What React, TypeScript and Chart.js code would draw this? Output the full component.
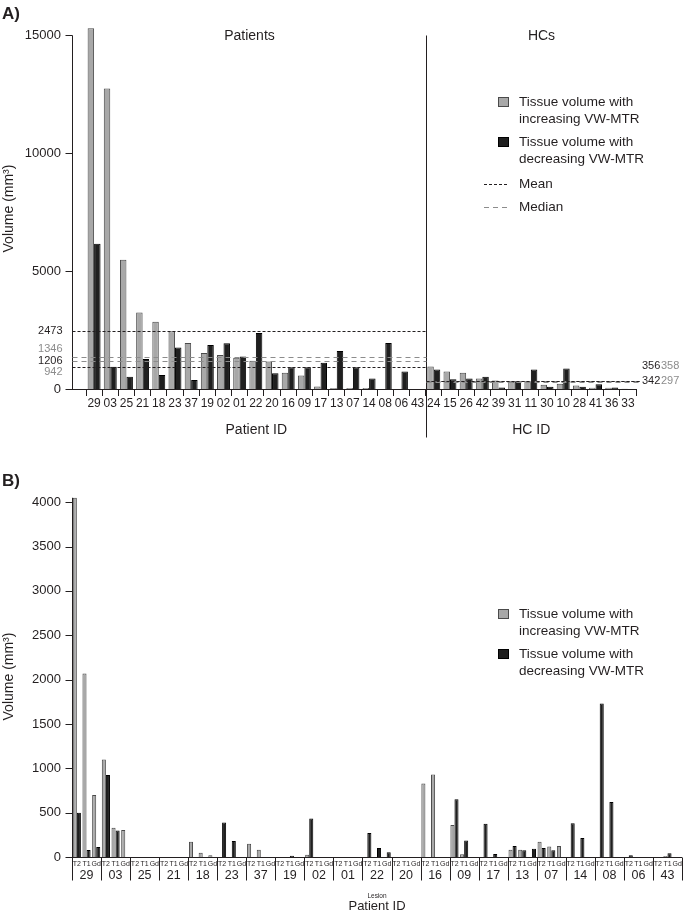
import React, { useEffect, useRef } from 'react';
import { Chart, registerables } from 'chart.js';

Chart.register(...registerables);

const FONT = '"Liberation Sans", Arial, Helvetica, sans-serif';
const TEXT = '#231f20';
const STAT_GRAY = '#8c8c8c';
const GRAY_FILL = '#a8a8a8';
const GRAY_EDGE = '#4a4a4a';
const BLACK_FILL = '#1f1f1f';
const BLACK_EDGE = '#000000';

// ---------- Panel A data ----------
const patientIds = ['29', '03', '25', '21', '18', '23', '37', '19', '02', '01', '22', '20', '16', '09', '17', '13', '07', '14', '08', '06', '43'];
const hcIds = ['24', '15', '26', '42', '39', '31', '11', '30', '10', '28', '41', '36', '33'];
const patientIncreasing = [15290, 12740, 5480, 3240, 2845, 2450, 1953, 1529, 1444, 1324, 1196, 1168, 686, 573, 106, 40, 40, 40, 0, 0, 0];
const patientDecreasing = [6157, 947, 522, 1274, 594, 1754, 382, 1868, 1940, 1380, 2371, 672, 927, 927, 1111, 1607, 927, 446, 1946, 743, 0];
const hcIncreasing = [955, 743, 687, 446, 361, 306, 331, 178, 220, 150, 50, 50, 10];
const hcDecreasing = [828, 416, 446, 517, 64, 330, 828, 93, 870, 93, 204, 64, 0];
const yTicksA = [0, 5000, 10000, 15000];
const yMaxA = 15300;

const patientStatValues = [2473, 1346, 1206, 942];
const patientStatStyles = ['dotted', 'dashed', 'dashed', 'dotted'];
const patientStatLabelColors = [TEXT, STAT_GRAY, TEXT, STAT_GRAY];
const hcStatValues = [356, 358, 342, 297];
const hcStatStyles = ['dotted', 'dashed', 'dotted', 'dashed'];
const hcStatLabelColors = [TEXT, STAT_GRAY, TEXT, STAT_GRAY];

// ---------- Panel B data ----------
const lesionTypes = ['T2', 'T1', 'Gd'];
const increasingT2 = [4050, 1100, 0, 0, 172, 0, 150, 0, 26, 0, 0, 0, 830, 360, 0, 83, 173, 0, 0, 0, 0];
const increasingT1 = [2070, 330, 0, 0, 47, 0, 83, 0, 0, 0, 0, 0, 930, 30, 0, 83, 117, 0, 0, 0, 10];
const increasingGd = [700, 305, 0, 0, 20, 0, 0, 0, 0, 0, 0, 0, 0, 0, 0, 0, 124, 0, 0, 0, 0];
const decreasingT2 = [500, 925, 0, 0, 0, 390, 0, 0, 435, 0, 271, 0, 0, 650, 375, 124, 102, 380, 1730, 19, 0];
const decreasingT1 = [78, 300, 0, 0, 0, 180, 0, 15, 0, 0, 102, 0, 0, 185, 35, 75, 75, 215, 620, 0, 41];
const decreasingGd = [113, 0, 0, 0, 0, 0, 0, 0, 0, 0, 53, 0, 0, 0, 0, 94, 0, 0, 0, 0, 0];
const yTicksB = [0, 500, 1000, 1500, 2000, 2500, 3000, 3500, 4000];
const yMaxB = 4070;

const legendIncreasing = ['Tissue volume with', 'increasing VW-MTR'];
const legendDecreasing = ['Tissue volume with', 'decreasing VW-MTR'];

const AXIS_GAP_A = 14;
const TICK_LEN = 7;

function font(size: number, weight = 'normal') {
  return `${weight} ${size}px ${FONT}`;
}

function hline(ctx: CanvasRenderingContext2D, x1: number, x2: number, y: number) {
  ctx.beginPath();
  ctx.moveTo(x1, y);
  ctx.lineTo(x2, y);
  ctx.stroke();
}
function vline(ctx: CanvasRenderingContext2D, x: number, y1: number, y2: number) {
  ctx.beginPath();
  ctx.moveTo(x, y1);
  ctx.lineTo(x, y2);
  ctx.stroke();
}
function setStyle(ctx: CanvasRenderingContext2D, style: string) {
  if (style === 'dotted') {
    ctx.setLineDash([3, 2]);
    ctx.strokeStyle = TEXT;
  } else {
    ctx.setLineDash([5, 4]);
    ctx.strokeStyle = STAT_GRAY;
  }
}

function drawLegend(ctx: CanvasRenderingContext2D, x0: number, y0: number, withStats: boolean) {
  ctx.save();
  ctx.lineWidth = 1;
  ctx.font = font(13.5);
  ctx.fillStyle = TEXT;
  ctx.textBaseline = 'middle';
  ctx.textAlign = 'left';
  const tx = x0 + 21;
  const items = [
    { lines: legendIncreasing, fill: GRAY_FILL, edge: GRAY_EDGE },
    { lines: legendDecreasing, fill: BLACK_FILL, edge: BLACK_EDGE },
  ];
  items.forEach((it, i) => {
    const yy = y0 + i * 40;
    ctx.fillStyle = it.fill;
    ctx.fillRect(x0, yy - 5, 11, 10);
    ctx.strokeStyle = it.edge;
    ctx.strokeRect(x0 + 0.5, yy - 4.5, 10, 9);
    ctx.fillStyle = TEXT;
    it.lines.forEach((l, j) => ctx.fillText(l, tx, yy + j * 17));
  });
  if (withStats) {
    const ym = y0 + 82;
    setStyle(ctx, 'dotted');
    hline(ctx, x0 - 14, x0 + 11, ym + 0.5);
    setStyle(ctx, 'dashed');
    hline(ctx, x0 - 14, x0 + 11, ym + 23.5);
    ctx.setLineDash([]);
    ctx.fillStyle = TEXT;
    ctx.fillText('Mean', tx, ym);
    ctx.fillText('Median', tx, ym + 23);
  }
  ctx.restore();
}

const panelAPlugin = {
  id: 'panelAExtras',
  afterDraw(chart: any) {
    const { ctx, chartArea: a } = chart;
    const x = chart.scales.x;
    const y = chart.scales.y;
    const axisX = Math.round(a.left - AXIS_GAP_A) + 0.5;
    const base = Math.round(y.getPixelForValue(0)) + 0.5;
    const top = Math.round(y.getPixelForValue(yTicksA[yTicksA.length - 1])) + 0.5;
    const catW = (a.right - a.left) / x.ticks.length;
    const sepX = Math.round(x.getPixelForValue(patientIds.length - 1) + catW / 2) + 0.5;
    ctx.save();
    ctx.strokeStyle = TEXT;
    ctx.lineWidth = 1;
    vline(ctx, axisX, top, base);
    y.ticks.forEach((t: any) => {
      const py = Math.round(y.getPixelForValue(t.value)) + 0.5;
      hline(ctx, axisX - TICK_LEN, axisX, py);
    });
    hline(ctx, axisX - 0.5, a.right, base);
    vline(ctx, sepX, top, base + 48);

    patientStatValues.forEach((v, i) => {
      setStyle(ctx, patientStatStyles[i]);
      hline(ctx, axisX, sepX, Math.round(y.getPixelForValue(v)) + 0.5);
    });
    hcStatValues.forEach((v, i) => {
      setStyle(ctx, hcStatStyles[i]);
      hline(ctx, sepX, a.right + 4, Math.round(y.getPixelForValue(v)) + 0.5);
    });
    ctx.setLineDash([]);

    ctx.font = font(11);
    ctx.textBaseline = 'middle';
    ctx.textAlign = 'right';
    const pOffsets = [0, -8, 0, 5];
    patientStatValues.forEach((v, i) => {
      ctx.fillStyle = patientStatLabelColors[i];
      ctx.fillText(String(v), axisX - 10, y.getPixelForValue(v) + pOffsets[i]);
    });
    ctx.textAlign = 'left';
    const hx = a.right + 6;
    const row1 = y.getPixelForValue(hcStatValues[0]) - 15;
    const row2 = y.getPixelForValue(hcStatValues[2]);
    ctx.fillStyle = hcStatLabelColors[0];
    ctx.fillText(String(hcStatValues[0]), hx, row1);
    ctx.fillStyle = hcStatLabelColors[1];
    ctx.fillText(String(hcStatValues[1]), hx + 19, row1);
    ctx.fillStyle = hcStatLabelColors[2];
    ctx.fillText(String(hcStatValues[2]), hx, row2);
    ctx.fillStyle = hcStatLabelColors[3];
    ctx.fillText(String(hcStatValues[3]), hx + 19, row2);

    ctx.fillStyle = TEXT;
    ctx.textAlign = 'center';
    ctx.font = font(14);
    ctx.fillText('Patients', (axisX + sepX) / 2, top + 1);
    ctx.fillText('HCs', sepX + 115, top + 1);
    ctx.fillText('Patient ID', (a.left + sepX) / 2, base + 41);
    ctx.fillText('HC ID', (sepX + a.right) / 2, base + 41);

    ctx.textAlign = 'left';
    ctx.font = font(17, 'bold');
    ctx.fillText('A)', 2, 14);
    ctx.restore();

    drawLegend(ctx, 498, 102, true);
  },
};

const panelBPlugin = {
  id: 'panelBExtras',
  afterDraw(chart: any) {
    const { ctx, chartArea: a } = chart;
    const x = chart.scales.x;
    const y = chart.scales.y;
    const axisX = Math.round(a.left) + 0.5;
    const base = Math.round(y.getPixelForValue(0)) + 0.5;
    const top = y.getPixelForValue(yMaxB - 20);
    const catW = (a.right - a.left) / x.ticks.length;
    ctx.save();
    ctx.strokeStyle = TEXT;
    ctx.lineWidth = 1;
    vline(ctx, axisX, top, base);
    y.ticks.forEach((t: any) => {
      const py = Math.round(y.getPixelForValue(t.value)) + 0.5;
      hline(ctx, axisX - TICK_LEN, axisX, py);
    });
    hline(ctx, axisX - 0.5, a.right, base);
    for (let k = 0; k <= patientIds.length; k++) {
      const gx = Math.round(x.getPixelForValue(k * lesionTypes.length) - catW / 2) + 0.5;
      vline(ctx, gx, base, base + 23);
    }
    ctx.fillStyle = TEXT;
    ctx.textAlign = 'center';
    ctx.textBaseline = 'middle';
    ctx.font = font(12.5);
    patientIds.forEach((p, k) => {
      ctx.fillText(p, x.getPixelForValue(k * lesionTypes.length + 1), base + 18);
    });
    const cx = (a.left + a.right) / 2;
    ctx.font = font(6.5);
    ctx.fillText('Lesion', cx, base + 39);
    ctx.font = font(13);
    ctx.fillText('Patient ID', cx, base + 49);

    ctx.textAlign = 'left';
    ctx.font = font(17, 'bold');
    ctx.fillText('B)', 2, 31);
    ctx.restore();

    drawLegend(ctx, 498, 164, false);
  },
};

function interleave(a: number[], b: number[], c: number[]) {
  const out: number[] = [];
  for (let i = 0; i < a.length; i++) out.push(a[i], b[i], c[i]);
  return out;
}

function yAxis(max: number, tickValues: number[], width: number, padding: number) {
  return {
    type: 'linear',
    min: 0,
    max,
    grid: { display: false, drawTicks: false },
    border: { display: false },
    afterBuildTicks: (s: any) => {
      s.ticks = tickValues.map((v) => ({ value: v }));
    },
    ticks: {
      padding,
      color: TEXT,
      font: { family: FONT, size: 13 },
      callback: (v: any) => String(v),
    },
    title: {
      display: true,
      text: 'Volume (mm³)',
      color: TEXT,
      font: { family: FONT, size: 14 },
      padding: { top: 1, bottom: 0 },
    },
    afterFit: (s: any) => {
      s.width = width;
      s.paddingTop = 0;
      s.paddingBottom = 0;
    },
  };
}

function makeConfigA(): any {
  return {
    type: 'bar',
    data: {
      labels: [...patientIds, ...hcIds],
      datasets: [
        {
          label: legendIncreasing.join(' '),
          data: [...patientIncreasing, ...hcIncreasing],
          backgroundColor: GRAY_FILL,
          borderColor: GRAY_EDGE,
          borderWidth: 1,
          categoryPercentage: 0.8,
          barPercentage: 1,
        },
        {
          label: legendDecreasing.join(' '),
          data: [...patientDecreasing, ...hcDecreasing],
          backgroundColor: BLACK_FILL,
          borderColor: BLACK_EDGE,
          borderWidth: 1,
          categoryPercentage: 0.8,
          barPercentage: 1,
        },
      ],
    },
    options: {
      responsive: false,
      animation: false,
      layout: { padding: { left: 0, right: 50, top: 28, bottom: 0 } },
      plugins: { legend: { display: false }, tooltip: { enabled: false } },
      scales: {
        x: {
          type: 'category',
          offset: true,
          grid: { display: true, drawOnChartArea: false, drawTicks: true, tickLength: TICK_LEN, color: TEXT, lineWidth: 1, offset: true },
          border: { display: false },
          ticks: { autoSkip: false, maxRotation: 0, minRotation: 0, padding: 0, color: TEXT, font: { family: FONT, size: 12 } },
          afterFit: (s: any) => {
            s.height = 61;
          },
        },
        y: yAxis(yMaxA, yTicksA, 86, AXIS_GAP_A + TICK_LEN + 4),
      },
    },
    plugins: [panelAPlugin],
  };
}

function makeConfigB(): any {
  const labels = patientIds.flatMap(() => lesionTypes);
  return {
    type: 'bar',
    data: {
      labels,
      datasets: [
        {
          label: legendIncreasing.join(' '),
          data: interleave(increasingT2, increasingT1, increasingGd),
          backgroundColor: GRAY_FILL,
          borderColor: GRAY_EDGE,
          borderWidth: 1,
          categoryPercentage: 0.84,
          barPercentage: 1,
        },
        {
          label: legendDecreasing.join(' '),
          data: interleave(decreasingT2, decreasingT1, decreasingGd),
          backgroundColor: BLACK_FILL,
          borderColor: BLACK_EDGE,
          borderWidth: 1,
          categoryPercentage: 0.84,
          barPercentage: 1,
        },
      ],
    },
    options: {
      responsive: false,
      animation: false,
      layout: { padding: { left: 0, right: 4, top: 46, bottom: 0 } },
      plugins: { legend: { display: false }, tooltip: { enabled: false } },
      scales: {
        x: {
          type: 'category',
          offset: true,
          grid: { display: false, drawTicks: false },
          border: { display: false },
          ticks: { autoSkip: false, maxRotation: 0, minRotation: 0, padding: 3, color: TEXT, font: { family: FONT, size: 7 } },
          afterFit: (s: any) => {
            s.height = 58;
          },
        },
        y: yAxis(yMaxB, yTicksB, 72, TICK_LEN + 4),
      },
    },
    plugins: [panelBPlugin],
  };
}

function ChartCanvas({ make, width, height }: { make: () => any; width: number; height: number }) {
  const ref = useRef<HTMLCanvasElement>(null);
  useEffect(() => {
    if (!ref.current) return;
    const chart = new Chart(ref.current, make());
    return () => chart.destroy();
  }, [make]);
  return <canvas ref={ref} width={width} height={height} style={{ display: 'block', width, height }} />;
}

export default function App() {
  return (
    <div style={{ position: 'absolute', left: 0, top: 0, width: 686, height: 915, background: '#ffffff' }}>
      <ChartCanvas make={makeConfigA} width={686} height={450} />
      <ChartCanvas make={makeConfigB} width={686} height={465} />
    </div>
  );
}
